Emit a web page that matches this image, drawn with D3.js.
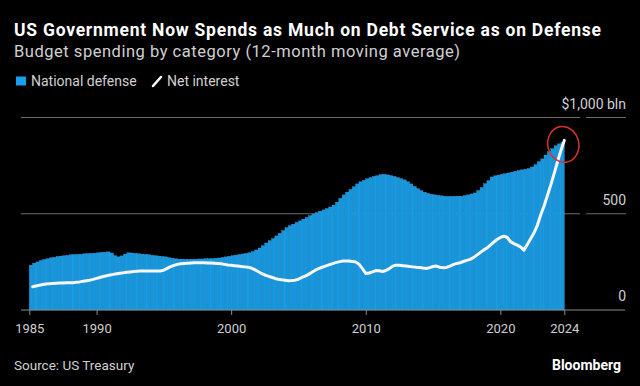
<!DOCTYPE html>
<html>
<head>
<meta charset="utf-8">
<script src="https://cdn.jsdelivr.net/npm/d3@7"></script>
<style>
body { margin: 0; background: #000; }
text { font-family: Roboto, "Liberation Sans", sans-serif; }
</style>
</head>
<body>
<script>
// national defense, 12-month moving average, $bn, one value per quarter (1985Q1 .. 2024Q3)
var defense = [
  233, 243, 250, 257,   262, 266, 271, 274,   278, 280, 282, 284,   287, 288, 289, 290,
  292, 293, 294, 295,   297, 299, 300, 302,   296, 282, 276, 281,   290, 297, 296, 294,
  292, 290, 289, 287,   284, 282, 280, 278,   276, 272, 269, 266,   264, 264, 264, 263,
  264, 264, 265, 265,   266, 266, 267, 268,   270, 273, 276, 279,   282, 285, 288, 291,
  294, 297, 303, 312,   322, 334, 348, 360,   371, 385, 398, 412,   428, 438, 446, 455,
  463, 472, 481, 490,   498, 506, 513, 520,   527, 535, 545, 560,   580, 598, 612, 626,
  640, 655, 666, 674,   682, 688, 694, 698,   703, 705, 702, 698,   694, 688, 682, 676,
  666, 655, 642, 630,   620, 612, 606, 601,   598, 595, 593, 591,   590, 590, 591, 591,
  591, 594, 598, 603,   608, 620, 636, 656,   672, 691, 697, 701,   705, 708, 712, 716,
  720, 725, 728, 731,   735, 743, 755, 770,   785, 805, 822, 838,   853, 863, 872
];

// net interest, 12-month moving average, $bn
var interest = [
  121, 125, 129, 132,   135, 137, 138, 139,   140, 140, 141, 142,   142, 144, 146, 149,
  152, 155, 159, 164,   169, 174, 178, 182,   185, 188, 191, 193,   196, 198, 200, 201,
  202, 202, 202, 202,   202, 202, 203, 207,   216, 225, 232, 237,   240, 242, 243, 244,
  245, 245, 245, 245,   244, 244, 243, 242,   240, 237, 234, 232,   230, 228, 226, 224,
  222, 218, 210, 200,   190, 182, 176, 170,   164, 160, 157, 155,   152, 153, 155, 160,
  169, 176, 185, 196,   207, 215, 222, 228,   234, 240, 246, 250,   254, 255, 254, 252,
  250, 238, 215, 190,   192, 198, 205, 204,   200, 205, 215, 228,   233, 232, 230, 228,
  226, 224, 222, 221,   218, 216, 220, 226,   228, 222, 219, 221,   228, 236, 242, 245,
  252, 258, 263, 272,   285, 298, 311, 322,   337, 352, 366, 377,   383, 378, 355, 345,
  337, 328, 311, 340,   370, 400, 440, 495,   540, 595, 650, 710,   770, 829, 881
];

var yTicks = [0, 500, 1000];
var yTickLabels = ["0", "500", "$1,000 bln"];
var xTickYears = [1985, 1990, 2000, 2010, 2020];
var xTickLabels = ["1985", "1990", "2000", "2010", "2020", "2024"];

var w = 640;
var h = 386;

var svg = d3.select("body")
            .append("svg")
            .attr("width", w)
            .attr("height", h);

svg.append("rect")
    .attr("width", w)
    .attr("height", h)
    .attr("fill", "#000");

// quarters from Jan 1985 up to the end of Sep 2024
var xStart = new Date(1985, 0, 1);
var xEnd = new Date(2024, 9, 1);
var quarters = d3.timeMonth.every(3).range(xStart, xEnd);

var xScale = d3.scaleTime()
            .domain([xStart, xEnd])
            .range([29.3, 564.3]);

var yScale = d3.scaleLinear()
            .domain([0, 1000])
            .range([310, 117.5]);

//gridlines (split in two, plot part and label part)
var grid = svg.append("g");
yTicks.filter(function(d){ return d > 0; }).forEach(function(d){
    grid.append("line")
        .attr("x1", 21).attr("x2", 580)
        .attr("y1", yScale(d)).attr("y2", yScale(d))
        .attr("stroke", "#6b6b6b").attr("stroke-width", 1);
    grid.append("line")
        .attr("x1", 586).attr("x2", 626)
        .attr("y1", yScale(d)).attr("y2", yScale(d))
        .attr("stroke", "#6b6b6b").attr("stroke-width", 1);
});

//y labels
svg.selectAll(".ylab")
    .data(yTicks)
    .enter()
    .append("text")
    .attr("class", "ylab")
    .attr("x", 626)
    .attr("y", function(d){ return yScale(d) - 9; })
    .attr("text-anchor", "end")
    .attr("font-size", 14)
    .attr("fill", "#cfcfcf")
    .text(function(d, i){ return yTickLabels[i]; });

//defense bars
svg.append("g")
    .selectAll("rect")
    .data(quarters)
    .enter()
    .append("rect")
    .attr("x", function(d){ return xScale(d); })
    .attr("width", function(d){ return xScale(d3.timeMonth.offset(d, 3)) - xScale(d); })
    .attr("y", function(d, i){ return yScale(defense[i]); })
    .attr("height", function(d, i){ return yScale(0) - yScale(defense[i]); })
    .attr("fill", "#1595dc")
    .attr("stroke", "#3eaae8")
    .attr("stroke-width", 0.35);

//net interest line
var interestLine = d3.line()
    .x(function(d){ return xScale(d3.timeMonth.offset(d, 3)); })
    .y(function(d, i){ return yScale(interest[i]); });

svg.append("path")
    .datum(quarters)
    .attr("d", interestLine)
    .attr("fill", "none")
    .attr("stroke", "#f7f7f7")
    .attr("stroke-width", 3)
    .attr("stroke-linejoin", "round")
    .attr("stroke-linecap", "round");

//x axis
svg.append("line")
    .attr("x1", 21).attr("x2", 625)
    .attr("y1", yScale(0)).attr("y2", yScale(0))
    .attr("stroke", "#8a8a8a").attr("stroke-width", 1);

var xTickDates = xTickYears.map(function(y){ return new Date(y, 0, 1); }).concat([xEnd]);

var xAxis = svg.append("g")
    .attr("transform", "translate(0," + yScale(0) + ")")
    .call(d3.axisBottom(xScale)
        .tickValues(xTickDates)
        .tickSize(5)
        .tickPadding(9)
        .tickFormat(function(d, i){ return xTickLabels[i]; }));

xAxis.select(".domain").remove();
xAxis.selectAll(".tick line").attr("stroke", "#8a8a8a");
xAxis.selectAll(".tick text")
    .attr("fill", "#cfcfcf")
    .attr("font-size", 13)
    .attr("font-family", "Roboto, 'Liberation Sans', sans-serif");

//red annotation circle round the latest point
var lastX = xScale(xEnd);
var lastY = yScale(interest[interest.length - 1]);
svg.append("ellipse")
    .attr("cx", lastX - 1)
    .attr("cy", lastY + 4)
    .attr("rx", 15.5)
    .attr("ry", 18)
    .attr("transform", "rotate(-12," + (lastX - 1) + "," + (lastY + 4) + ")")
    .attr("fill", "none")
    .attr("stroke", "#d8342c")
    .attr("stroke-width", 1.5);

//title and subtitle
svg.append("text")
    .attr("x", 14).attr("y", 36)
    .attr("font-size", 17.5)
    .attr("font-weight", 700)
    .attr("textLength", 587)
    .attr("lengthAdjust", "spacing")
    .attr("fill", "#fff")
    .text("US Government Now Spends as Much on Debt Service as on Defense");

svg.append("text")
    .attr("x", 14).attr("y", 57)
    .attr("font-size", 16.5)
    .attr("textLength", 446)
    .attr("lengthAdjust", "spacing")
    .attr("fill", "#d0d0d0")
    .text("Budget spending by category (12-month moving average)");

//legend
svg.append("rect")
    .attr("x", 16).attr("y", 76.5)
    .attr("width", 10).attr("height", 9)
    .attr("fill", "#1aa0ea");

svg.append("text")
    .attr("x", 31).attr("y", 86)
    .attr("font-size", 14)
    .attr("fill", "#d0d0d0")
    .text("National defense");

svg.append("line")
    .attr("x1", 153).attr("y1", 86)
    .attr("x2", 161).attr("y2", 77)
    .attr("stroke", "#fff")
    .attr("stroke-width", 2.5)
    .attr("stroke-linecap", "round");

svg.append("text")
    .attr("x", 167).attr("y", 86)
    .attr("font-size", 14)
    .attr("fill", "#d0d0d0")
    .text("Net interest");

//footer
svg.append("text")
    .attr("x", 14).attr("y", 370)
    .attr("font-size", 13.5)
    .attr("fill", "#cfcfcf")
    .text("Source: US Treasury");

svg.append("text")
    .attr("x", 621).attr("y", 370)
    .attr("text-anchor", "end")
    .attr("font-size", 14)
    .attr("font-weight", 700)
    .attr("fill", "#fff")
    .text("Bloomberg");
</script>
</body>
</html>
